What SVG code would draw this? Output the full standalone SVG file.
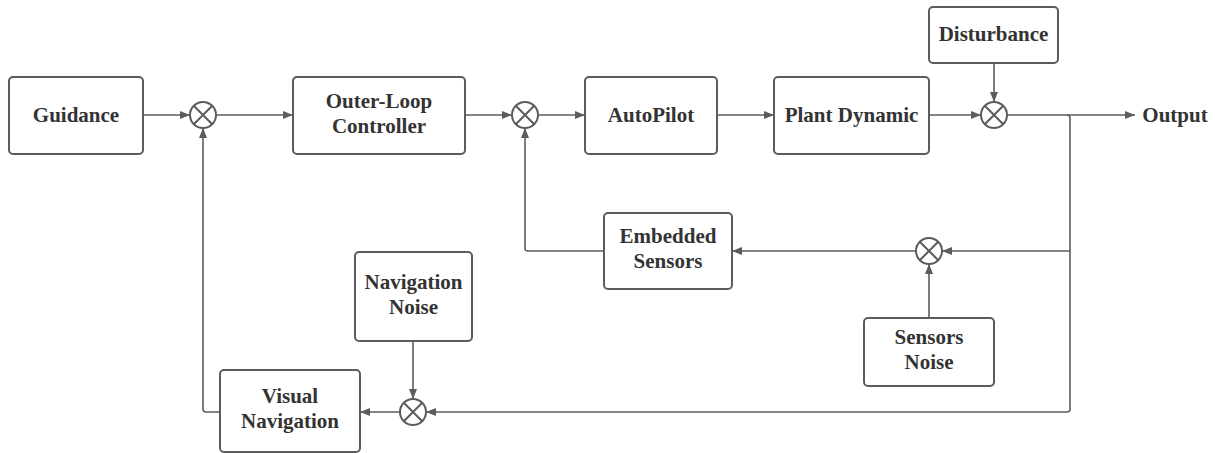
<svg xmlns="http://www.w3.org/2000/svg" width="1215" height="453" viewBox="0 0 1215 453">
<style>
.box{fill:#fff;stroke:#5c5c5c;stroke-width:2}
.sum{fill:#fff;stroke:#5c5c5c;stroke-width:2}
.x{stroke:#5c5c5c;stroke-width:2}
.ln{fill:none;stroke:#5c5c5c;stroke-width:1.6}
text{font-family:"Liberation Serif",serif;font-weight:bold;font-size:21px;fill:#333;text-anchor:middle}
</style>
<defs>
<marker id="ah" viewBox="0 0 10 8" refX="10" refY="4" markerWidth="10" markerHeight="8" markerUnits="userSpaceOnUse" orient="auto">
<path d="M0,0L10,4L0,8z" fill="#5c5c5c"/>
</marker>
</defs>
<g id="connectors">
<path class="ln" d="M143,115H190" marker-end="url(#ah)"/>
<path class="ln" d="M216,115H293" marker-end="url(#ah)"/>
<path class="ln" d="M465,115H512" marker-end="url(#ah)"/>
<path class="ln" d="M538,115H585" marker-end="url(#ah)"/>
<path class="ln" d="M717,115H774" marker-end="url(#ah)"/>
<path class="ln" d="M929,115H981" marker-end="url(#ah)"/>
<path class="ln" d="M994,63V102" marker-end="url(#ah)"/>
<path class="ln" d="M1007,115H1135" marker-end="url(#ah)"/>
<path class="ln" d="M1067,115Q1070,115 1070,118V409Q1070,412 1067,412H426" marker-end="url(#ah)"/>
<path class="ln" d="M1070,251H942" marker-end="url(#ah)"/>
<path class="ln" d="M916,251H732" marker-end="url(#ah)"/>
<path class="ln" d="M929,318V264" marker-end="url(#ah)"/>
<path class="ln" d="M604,251H528Q525,251 525,248V128" marker-end="url(#ah)"/>
<path class="ln" d="M413,341V399" marker-end="url(#ah)"/>
<path class="ln" d="M400,412H360" marker-end="url(#ah)"/>
<path class="ln" d="M220,412H206Q203,412 203,409V128" marker-end="url(#ah)"/>
</g>
<g id="guidance"><rect class="box" x="9" y="77" width="134" height="77" rx="4"/><text x="76" y="122">Guidance</text></g>
<g id="sum1"><circle class="sum" cx="203" cy="115" r="13"/><path class="x" d="M193.8,105.8L212.2,124.2M212.2,105.8L193.8,124.2"/></g>
<g id="outer-loop"><rect class="box" x="293" y="77" width="172" height="77" rx="4"/><text x="379" y="108">Outer-Loop</text><text x="379" y="133">Controller</text></g>
<g id="sum2"><circle class="sum" cx="525" cy="115" r="13"/><path class="x" d="M515.8,105.8L534.2,124.2M534.2,105.8L515.8,124.2"/></g>
<g id="autopilot"><rect class="box" x="585" y="77" width="132" height="77" rx="4"/><text x="651" y="122">AutoPilot</text></g>
<g id="plant"><rect class="box" x="774" y="77" width="155" height="77" rx="4"/><text x="851.5" y="122">Plant Dynamic</text></g>
<g id="disturbance"><rect class="box" x="929" y="7" width="129" height="56" rx="4"/><text x="993.5" y="41">Disturbance</text></g>
<g id="sum3"><circle class="sum" cx="994" cy="115" r="13"/><path class="x" d="M984.8,105.8L1003.2,124.2M1003.2,105.8L984.8,124.2"/></g>
<g id="output"><text x="1175" y="122">Output</text></g>
<g id="embedded"><rect class="box" x="604" y="213" width="128" height="76" rx="4"/><text x="668" y="243">Embedded</text><text x="668" y="268">Sensors</text></g>
<g id="sum4"><circle class="sum" cx="929" cy="251" r="13"/><path class="x" d="M919.8,241.8L938.2,260.2M938.2,241.8L919.8,260.2"/></g>
<g id="sensors-noise"><rect class="box" x="864" y="318" width="130" height="68" rx="4"/><text x="929" y="344">Sensors</text><text x="929" y="369">Noise</text></g>
<g id="nav-noise"><rect class="box" x="355" y="252" width="117" height="89" rx="4"/><text x="413.5" y="289">Navigation</text><text x="413.5" y="314">Noise</text></g>
<g id="sum5"><circle class="sum" cx="413" cy="412" r="13"/><path class="x" d="M403.8,402.8L422.2,421.2M422.2,402.8L403.8,421.2"/></g>
<g id="visual-nav"><rect class="box" x="220" y="370" width="140" height="82" rx="4"/><text x="290" y="403">Visual</text><text x="290" y="428">Navigation</text></g>
</svg>
